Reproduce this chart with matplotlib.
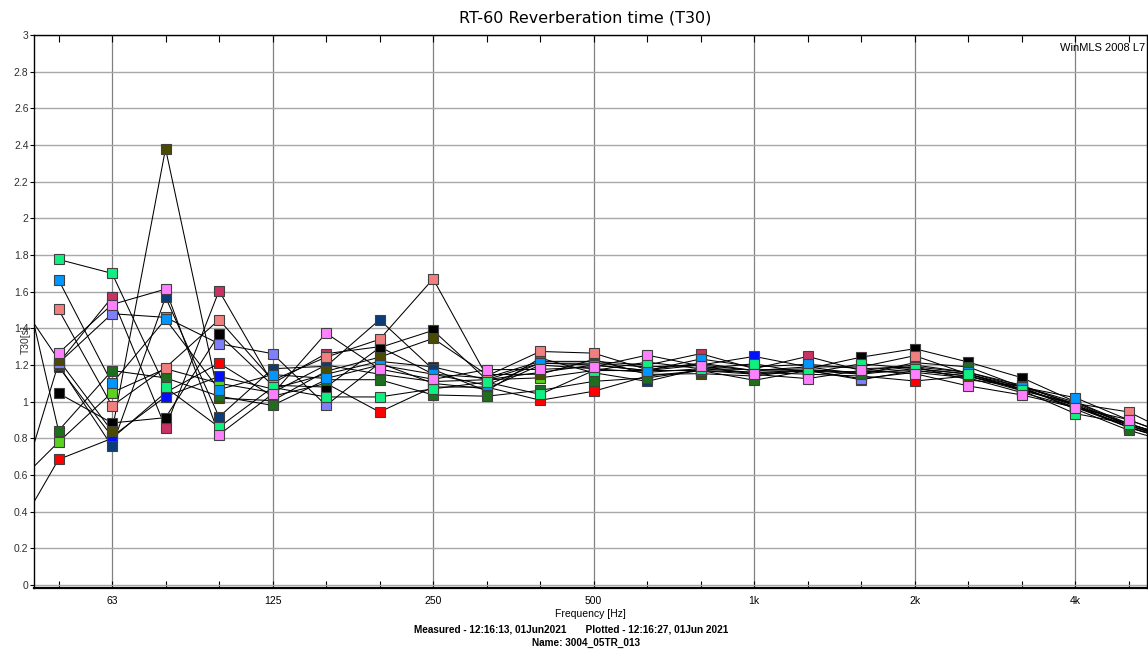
import numpy as np
from matplotlib import pyplot as plt
from matplotlib.ticker import FixedLocator, NullFormatter

# third-octave bands, 40 Hz .. 6.3 kHz (first and last lie outside the axes)
band_n = np.arange(-14, 9)
freqs = 1000 * 10 ** (band_n / 10)
major_freqs = 1000 * 10 ** (np.array([-12, -9, -6, -3, 0, 3, 6]) / 10)
major_labels = ["63", "125", "250", "500", "1k", "2k", "4k"]

nan = np.nan
# T30 [s] per position, bands 40, 50, 63, 80, 100, 125, 160, 200, 250, 315, 400,
# 500, 630, 800, 1k, 1.25k, 1.6k, 2k, 2.5k, 3.15k, 4k, 5k, 6.3k
t30_lime = [0.49, 0.78, 1.05, 1.18, 1.10, 1.05, 1.20, 1.15, 1.11, 1.12, 1.13, 1.17, 1.17, 1.17, 1.15, 1.17, 1.16, 1.17, 1.14, 1.07, 0.97, 0.86, 0.78]
t30_red = [0.18, 0.685, 0.80, 1.05, 1.21, 1.03, 1.10, 0.944, 1.08, 1.08, 1.008, 1.057, 1.14, 1.17, 1.16, 1.15, 1.14, 1.113, 1.14, 1.07, 0.98, 0.86, 0.77]
t30_blue = [nan, 1.19, 0.81, 1.028, 1.138, 1.07, 1.15, 1.22, 1.19, 1.12, 1.21, 1.21, 1.19, 1.20, 1.247, 1.19, 1.15, 1.18, 1.15, 1.07, 0.98, 0.86, 0.77]
t30_navy = [nan, 1.20, 0.757, 1.57, 0.917, 1.18, 1.193, 1.447, 1.176, 1.058, 1.238, 1.158, 1.111, 1.18, 1.175, 1.17, 1.12, 1.17, 1.14, 1.06, 0.99, 0.87, 0.78]
t30_crimson = [nan, 1.21, 1.57, 0.859, 1.605, 1.10, 1.262, 1.30, 1.15, 1.13, 1.22, 1.22, 1.20, 1.262, 1.18, 1.247, 1.17, 1.20, 1.16, 1.09, 0.98, 0.88, 0.79]
t30_lavender = [0.25, 1.21, 1.48, 1.46, 1.316, 1.262, 0.98, 1.211, 1.10, 1.07, 1.20, 1.18, 1.16, 1.18, 1.16, 1.17, 1.126, 1.16, 1.13, 1.05, 0.97, 0.87, 0.78]
t30_black = [nan, 1.046, 0.884, 0.913, 1.367, 1.09, 1.08, 1.295, 1.389, 1.12, 1.16, 1.20, 1.17, 1.20, 1.17, 1.18, 1.243, 1.289, 1.216, 1.131, 1.00, 0.88, 0.79]
t30_olive = [1.66, 1.229, 0.839, 2.38, 1.019, 1.006, 1.166, 1.243, 1.345, 1.148, 1.15, 1.23, 1.149, 1.153, 1.14, 1.175, 1.16, 1.19, 1.12, 1.084, 0.998, 0.871, 0.78]
t30_dkgreen = [2.11, 0.842, 1.17, 1.13, 1.03, 0.98, 1.12, 1.12, 1.037, 1.03, 1.062, 1.111, 1.13, 1.17, 1.117, 1.17, 1.15, 1.213, 1.19, 1.08, 0.96, 0.844, 0.76]
t30_salmon = [nan, 1.503, 0.977, 1.186, 1.447, 1.117, 1.243, 1.34, 1.67, 1.14, 1.274, 1.265, 1.175, 1.21, 1.17, 1.19, 1.19, 1.251, 1.15, 1.08, 0.99, 0.944, 0.80]
t30_azure = [nan, 1.665, 1.10, 1.45, 1.066, 1.148, 1.127, 1.20, 1.15, 1.09, 1.211, 1.20, 1.17, 1.233, 1.19, 1.204, 1.18, 1.19, 1.16, 1.08, 1.022, 0.90, 0.80]
t30_spring = [nan, 1.776, 1.70, 1.078, 0.861, 1.078, 1.026, 1.026, 1.07, 1.107, 1.04, 1.17, 1.216, 1.18, 1.207, 1.156, 1.207, 1.18, 1.153, 1.062, 0.935, 0.88, 0.78]
t30_violet = [nan, 1.265, 1.53, 1.614, 0.82, 1.042, 1.374, 1.178, 1.122, 1.175, 1.176, 1.19, 1.254, 1.195, 1.149, 1.126, 1.171, 1.153, 1.086, 1.037, 0.968, 0.902, 0.79]

series = [
    (t30_lime, "#5ad21e"),
    (t30_red, "#ff0000"),
    (t30_blue, "#0010ff"),
    (t30_navy, "#0c3c78"),
    (t30_crimson, "#c83264"),
    (t30_lavender, "#8080ff"),
    (t30_black, "#000000"),
    (t30_olive, "#4b4b00"),
    (t30_dkgreen, "#1e6e1e"),
    (t30_salmon, "#f08080"),
    (t30_azure, "#0096ff"),
    (t30_spring, "#10f080"),
    (t30_violet, "#ff80ff"),
]

plt.rcParams['font.family'] = ['Liberation Sans', 'DejaVu Sans']

fig = plt.figure(figsize=(11.48, 6.52), dpi=100)
ax = fig.add_axes([34 / 1148, 1 - 588 / 652, 1 - 35 / 1148, 553 / 652])

for vals, col in series:
    ax.plot(freqs, vals, "-", color="black", lw=0.75, zorder=3)
for vals, col in series:
    ax.plot(freqs, vals, "s", ms=7, mfc=col, mec="#404040", mew=0.8, zorder=4)

ax.set_xscale("log")
ax.set_xlim(45.1, 5420)
ax.set_ylim(-0.016, 3.0)

ax.xaxis.set_major_locator(FixedLocator(major_freqs))
ax.set_xticklabels(major_labels)
minor = [f for f in freqs if not np.any(np.isclose(f, major_freqs))]
ax.xaxis.set_minor_locator(FixedLocator(minor))
ax.xaxis.set_minor_formatter(NullFormatter())
ax.tick_params(axis="x", which="both", direction="in", top=True, length=5,
               width=0.8, labelsize=7.5, pad=6, colors="black")
ax.set_yticks(np.arange(0, 3.01, 0.2))
ax.set_yticklabels(["0", "0.2", "0.4", "0.6", "0.8", "1", "1.2", "1.4", "1.6",
                    "1.8", "2", "2.2", "2.4", "2.6", "2.8", "3"])
ax.tick_params(axis="y", direction="out", length=3, labelsize=7.5, pad=1,
               labelcolor="#303030")

ax.grid(True, axis="x", which="major", color="#808080", lw=0.9, zorder=1)
ax.grid(True, axis="y", color="#a8a8a8", lw=1.0, zorder=1)
ax.set_axisbelow(True)
for s in ax.spines.values():
    s.set_linewidth(1.0)
ax.spines["bottom"].set_linewidth(1.6)

ax.set_xlabel("Frequency [Hz]", fontsize=7.5, labelpad=2)
fig.text(26 / 1148, 1 - 340 / 652, "T30[s]", rotation=90, fontsize=7.5,
         ha="center", va="center", color="#303030")
ax.text(0.998, 0.985, "WinMLS 2008 L7", transform=ax.transAxes, ha="right",
        va="top", fontsize=8)

fig.text(585 / 1148, 1 - 18 / 652, "RT-60 Reverberation time (T30)",
         ha="center", va="center", fontsize=11.5, family=["DejaVu Sans"])
fig.text(571 / 1148, 1 - 629 / 652,
         "Measured - 12:16:13, 01Jun2021       Plotted - 12:16:27, 01Jun 2021",
         ha="center", va="center", fontsize=7.2, fontweight="bold")
fig.text(586 / 1148, 1 - 643 / 652, "Name: 3004_05TR_013",
         ha="center", va="center", fontsize=7.2, fontweight="bold")

fig.savefig("out.png", dpi=100)
